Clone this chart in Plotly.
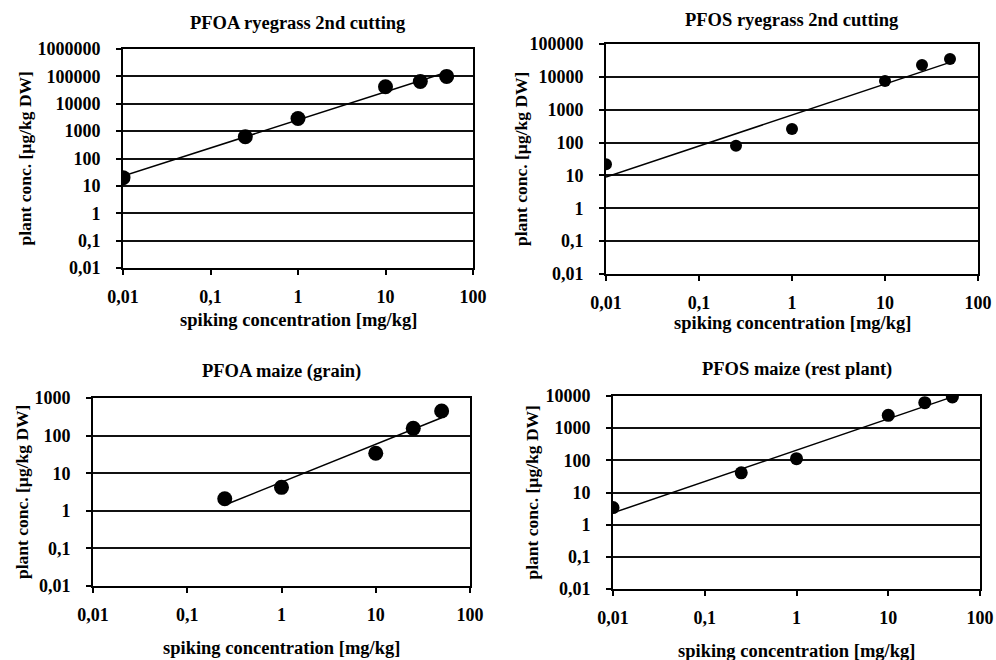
import numpy as np
import plotly.graph_objects as go

# ---- data ----
spiking_pfoa_rye = [0.01, 0.25, 1, 10, 25, 50]
plant_pfoa_rye = [20, 620, 2900, 42000, 65000, 100000]

spiking_pfos_rye = [0.01, 0.25, 1, 10, 25, 50]
plant_pfos_rye = [22, 80, 260, 7500, 23000, 35000]

spiking_pfoa_maize = [0.25, 1, 10, 25, 50]
plant_pfoa_maize = [2.1, 4.2, 34, 156, 450]

spiking_pfos_maize = [0.01, 0.25, 1, 10, 25, 50]
plant_pfos_maize = [3.4, 41, 113, 2500, 6200, 9300]

titles = ["PFOA ryegrass 2nd cutting", "PFOS ryegrass 2nd cutting",
          "PFOA maize (grain)", "PFOS maize (rest plant)"]
x_tick_vals = [0.01, 0.1, 1, 10, 100]
x_tick_text = ["0,01", "0,1", "1", "10", "100"]
y_tick_vals_all = [0.01, 0.1, 1, 10, 100, 1000, 10000, 100000, 1000000]
y_tick_text_all = ["0,01", "0,1", "1", "10", "100", "1000", "10000", "100000", "1000000"]
x_label = "spiking concentration [mg/kg]"
y_label = "plant conc. [µg/kg DW]"

W, H = 996, 660
FONT = "Liberation Serif, Times New Roman, serif"

panels = [
    dict(x=spiking_pfoa_rye, y=plant_pfoa_rye, px=(123, 473), py=(49, 268), ymax=6, ms=15,
         title_y=23, xlab_y=320, ylab_x=25),
    dict(x=spiking_pfos_rye, y=plant_pfos_rye, px=(606, 978), py=(44, 274), ymax=5, ms=12,
         title_y=20, xlab_y=323, ylab_x=521),
    dict(x=spiking_pfoa_maize, y=plant_pfoa_maize, px=(93, 470), py=(398, 586), ymax=3, ms=15,
         title_y=371, xlab_y=648, ylab_x=22),
    dict(x=spiking_pfos_maize, y=plant_pfos_maize, px=(613, 980), py=(396, 589), ymax=4, ms=13,
         title_y=369, xlab_y=651, ylab_x=531),
]

fig = go.Figure()
annotations = []
for i, p in enumerate(panels):
    n = "" if i == 0 else str(i + 1)
    xa = "x" + n
    ya = "y" + n
    xs = np.array(p["x"], dtype=float)
    ys = np.array(p["y"], dtype=float)
    # power-law trendline (linear fit in log-log space)
    b, a = np.polyfit(np.log10(xs), np.log10(ys), 1)
    tx = np.array([xs.min(), xs.max()])
    ty = 10 ** (a + b * np.log10(tx))
    fig.add_trace(go.Scatter(x=tx, y=ty, mode="lines", line=dict(color="black", width=1.5),
                             xaxis=xa, yaxis=ya, showlegend=False, hoverinfo="skip"))
    fig.add_trace(go.Scatter(x=xs, y=ys, mode="markers",
                             marker=dict(color="black", size=p["ms"]),
                             xaxis=xa, yaxis=ya, showlegend=False))
    x0, x1 = p["px"]
    y0, y1 = p["py"]
    nt = p["ymax"] + 3
    axis_common = dict(showline=True, linecolor="black", linewidth=2, mirror=True,
                       ticks="outside", ticklen=5, tickwidth=1.5, tickcolor="black",
                       tickfont=dict(family=FONT, size=18, color="black", weight="bold"),
                       zeroline=False, automargin=False)
    fig.layout["xaxis" + n] = dict(
        type="log", range=[-2, 2], domain=[x0 / W, x1 / W], anchor=ya,
        tickvals=x_tick_vals, ticktext=x_tick_text, showgrid=False,
        ticklabelstandoff=6, **axis_common)
    fig.layout["yaxis" + n] = dict(
        type="log", range=[-2, p["ymax"]], domain=[1 - y1 / H, 1 - y0 / H], anchor=xa,
        tickvals=y_tick_vals_all[:nt], ticktext=y_tick_text_all[:nt],
        showgrid=True, gridcolor="#111", gridwidth=1.6, ticklabelstandoff=12, **axis_common)
    annotations.append(dict(text="<b>%s</b>" % titles[i], x=(x0 + x1) / 2 / W, y=1 - p["title_y"] / H,
                            xref="paper", yref="paper", showarrow=False, xanchor="center", yanchor="middle",
                            font=dict(family=FONT, size=18.5, color="black")))
    annotations.append(dict(text="<b>%s</b>" % x_label, x=(x0 + x1) / 2 / W, y=1 - p["xlab_y"] / H,
                            xref="paper", yref="paper", showarrow=False, xanchor="center", yanchor="middle",
                            font=dict(family=FONT, size=18.5, color="black")))
    annotations.append(dict(text="<b>%s</b>" % y_label, x=p["ylab_x"] / W, y=1 - (y0 + y1) / 2 / H,
                            xref="paper", yref="paper", showarrow=False, xanchor="center", yanchor="middle",
                            textangle=-90, font=dict(family=FONT, size=17.5, color="black")))

fig.update_layout(width=W, height=H, margin=dict(l=0, r=0, t=0, b=0, autoexpand=False),
                  paper_bgcolor="white", plot_bgcolor="white",
                  annotations=annotations, showlegend=False)
fig.write_html("out.html", config={"displayModeBar": False},
               post_script="document.body.style.margin='0';document.body.style.overflow='hidden';")
